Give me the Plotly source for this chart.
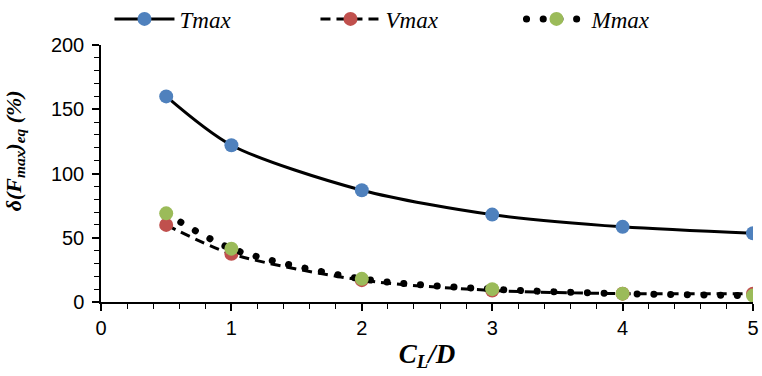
import plotly.graph_objects as go

x_vals = [0.5, 1, 2, 3, 4, 5]
tmax = [160, 122, 87, 68, 58.5, 53.5]
vmax = [60, 37.5, 17, 9, 6.5, 6.5]
mmax = [69, 41.5, 18, 10, 6.5, 5]

names = ["Tmax", "Vmax", "Mmax"]
colors = ["#4F81BD", "#C0504D", "#9BBB59"]

fig = go.Figure()
fig.add_trace(go.Scatter(x=x_vals, y=tmax, name=names[0], mode="lines+markers",
                         line=dict(color="black", width=3, shape="spline", smoothing=0.8),
                         marker=dict(color=colors[0], size=14)))
fig.add_trace(go.Scatter(x=x_vals, y=vmax, name=names[1], mode="lines+markers",
                         line=dict(color="black", width=3, dash="10px,6px", shape="spline", smoothing=0.8),
                         marker=dict(color=colors[1], size=14)))
fig.add_trace(go.Scatter(x=x_vals, y=mmax, name=names[2], mode="lines+markers",
                         line=dict(color="black", width=7, dash="0.1px,16.6px", shape="spline", smoothing=0.8),
                         marker=dict(color=colors[2], size=14)))

fig.update_layout(
    width=762, height=376,
    margin=dict(l=101, r=9, t=45, b=74, autoexpand=False),
    paper_bgcolor="white", plot_bgcolor="white",
    font=dict(family="Liberation Sans, Arial", size=20, color="black"),
    legend=dict(orientation="h", x=0.013, y=1.185, xanchor="left", yanchor="top",
                font=dict(family="Liberation Serif, Times New Roman", size=23, color="black",
                          style="italic"),
                entrywidth=131, entrywidthmode="pixels", itemwidth=60,
                bgcolor="rgba(0,0,0,0)"),
    xaxis=dict(range=[0, 5], tickvals=[0, 1, 2, 3, 4, 5], showgrid=False, zeroline=False,
               showline=True, linecolor="black", linewidth=1.5,
               ticks="outside", ticklen=7, tickwidth=1.5, tickcolor="black",
               minor=dict(dtick=0.2, ticks="outside", ticklen=5, tickwidth=1.2, tickcolor="black"),
               title=dict(text="<b><i>C<sub>L</sub>/D</i></b>", standoff=6,
                          font=dict(family="Liberation Serif, Times New Roman", size=27))),
    yaxis=dict(range=[0, 200], tickvals=[0, 50, 100, 150, 200], showgrid=False, zeroline=False,
               showline=True, linecolor="black", linewidth=1.5,
               ticks="outside", ticklen=7, tickwidth=1.5, tickcolor="black",
               ticklabelstandoff=4,
               minor=dict(dtick=10, ticks="outside", ticklen=5, tickwidth=1.2, tickcolor="black")),
    annotations=[dict(text="<b><i>δ(F<sub>max</sub>)<sub>eq</sub> (%)</i></b>",
                      xref="paper", yref="paper", x=-0.132, y=0.59, textangle=-90,
                      showarrow=False, xanchor="center", yanchor="middle",
                      font=dict(family="Liberation Serif, Times New Roman", size=22))],
)

post = """
var gd=document.getElementById('{plot_id}');
function f(){gd.querySelectorAll('path').forEach(function(p){
 if((p.style.strokeDasharray||'').indexOf('0.1')>=0){p.style.strokeLinecap='round';}});}
f(); gd.on('plotly_afterplot', f);
"""
fig.write_html("out.html", post_script=post)
